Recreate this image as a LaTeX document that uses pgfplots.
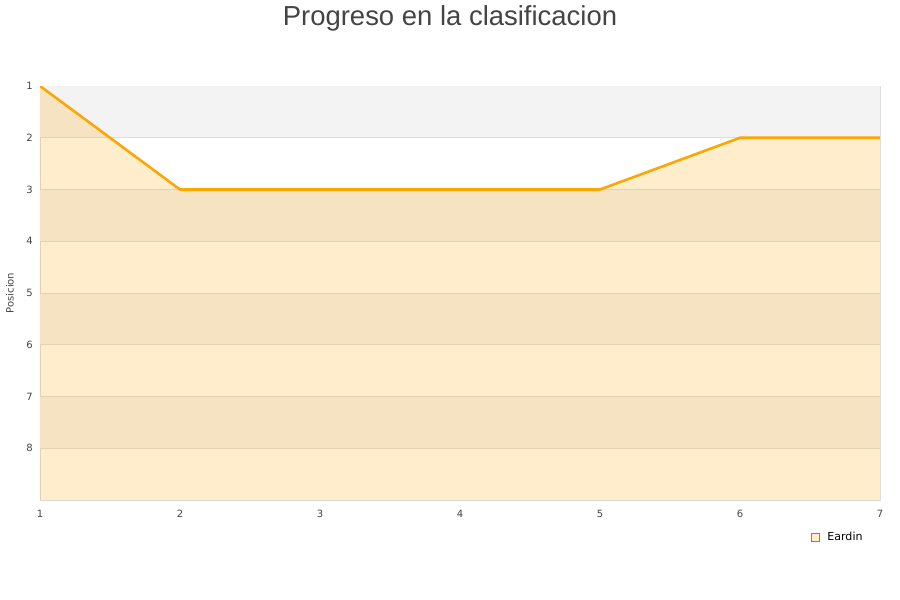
\documentclass[border=0pt]{standalone}
\usepackage{pgfplots}
\pgfplotsset{compat=1.18}
\usepackage{fontspec}
\setmainfont{DejaVu Sans}
\newfontfamily\titlefont{Liberation Sans}
\definecolor{lineor}{HTML}{FFA500}
\definecolor{band}{HTML}{F3F3F3}
\definecolor{gridc}{HTML}{DDDDDD}
\definecolor{tickc}{HTML}{444444}
\definecolor{legfill}{HTML}{FFEDCC}
\begin{document}
\begin{tikzpicture}[x=0.75pt,y=0.75pt]
\path[use as bounding box] (-40,-100) rectangle (860,500);
\node[font=\titlefont\fontsize{20.6}{24}\selectfont, text=tickc] at (410,482) {Progreso en la clasificacion};
\begin{axis}[
  at={(0,0)}, anchor=south west,
  scale only axis, width=630pt, height=310.5pt,
  xmin=1, xmax=7, ymin=1, ymax=9, y dir=reverse,
  xtick={1,2,3,4,5,6,7}, ytick={1,2,3,4,5,6,7,8},
  tick style={draw=none},
  axis line style={draw=gridc},
  ticklabel style={font=\fontsize{7.5}{9}\selectfont, text=tickc},
  xticklabel style={yshift=-4pt},
  yticklabel style={xshift=-2pt},
  /pgf/number format/assume math mode=true,
  ylabel={Posicion}, ylabel style={font=\fontsize{7.5}{9}\selectfont, text=tickc, at={(ticklabel cs:0.5)}, yshift=2.5pt},
  legend style={at={(0.95,-0.0895)}, anchor=center, draw=none, fill=none, font=\fontsize{8.3}{10}\selectfont},
  legend cell align=left,
]
\addplot[fill=band, draw=none, forget plot] coordinates {(1,1)(7,1)(7,2)(1,2)} -- cycle;
\addplot[fill=band, draw=none, forget plot] coordinates {(1,3)(7,3)(7,4)(1,4)} -- cycle;
\addplot[fill=band, draw=none, forget plot] coordinates {(1,5)(7,5)(7,6)(1,6)} -- cycle;
\addplot[fill=band, draw=none, forget plot] coordinates {(1,7)(7,7)(7,8)(1,8)} -- cycle;
\addplot[gridc, line width=0.5pt, forget plot] coordinates {(1,2)(7,2)};
\addplot[gridc, line width=0.5pt, forget plot] coordinates {(1,3)(7,3)};
\addplot[gridc, line width=0.5pt, forget plot] coordinates {(1,4)(7,4)};
\addplot[gridc, line width=0.5pt, forget plot] coordinates {(1,5)(7,5)};
\addplot[gridc, line width=0.5pt, forget plot] coordinates {(1,6)(7,6)};
\addplot[gridc, line width=0.5pt, forget plot] coordinates {(1,7)(7,7)};
\addplot[gridc, line width=0.5pt, forget plot] coordinates {(1,8)(7,8)};
\addplot[fill=lineor, fill opacity=0.2, draw=none, forget plot] coordinates {(1,1)(2,3)(3,3)(4,3)(5,3)(6,2)(7,2)(7,9)(1,9)} -- cycle;
\addplot[color=lineor, line width=1.9pt, forget plot] coordinates {(1,1)(2,3)(3,3)(4,3)(5,3)(6,2)(7,2)};
\addlegendimage{legend image code/.code={\draw[fill=legfill, draw=gray, line width=0.5pt] (0.05cm,-0.105cm) rectangle (0.26cm,0.105cm);}}
\addlegendentry{\hspace{4pt}Eardin}
\end{axis}
\end{tikzpicture}
\end{document}
